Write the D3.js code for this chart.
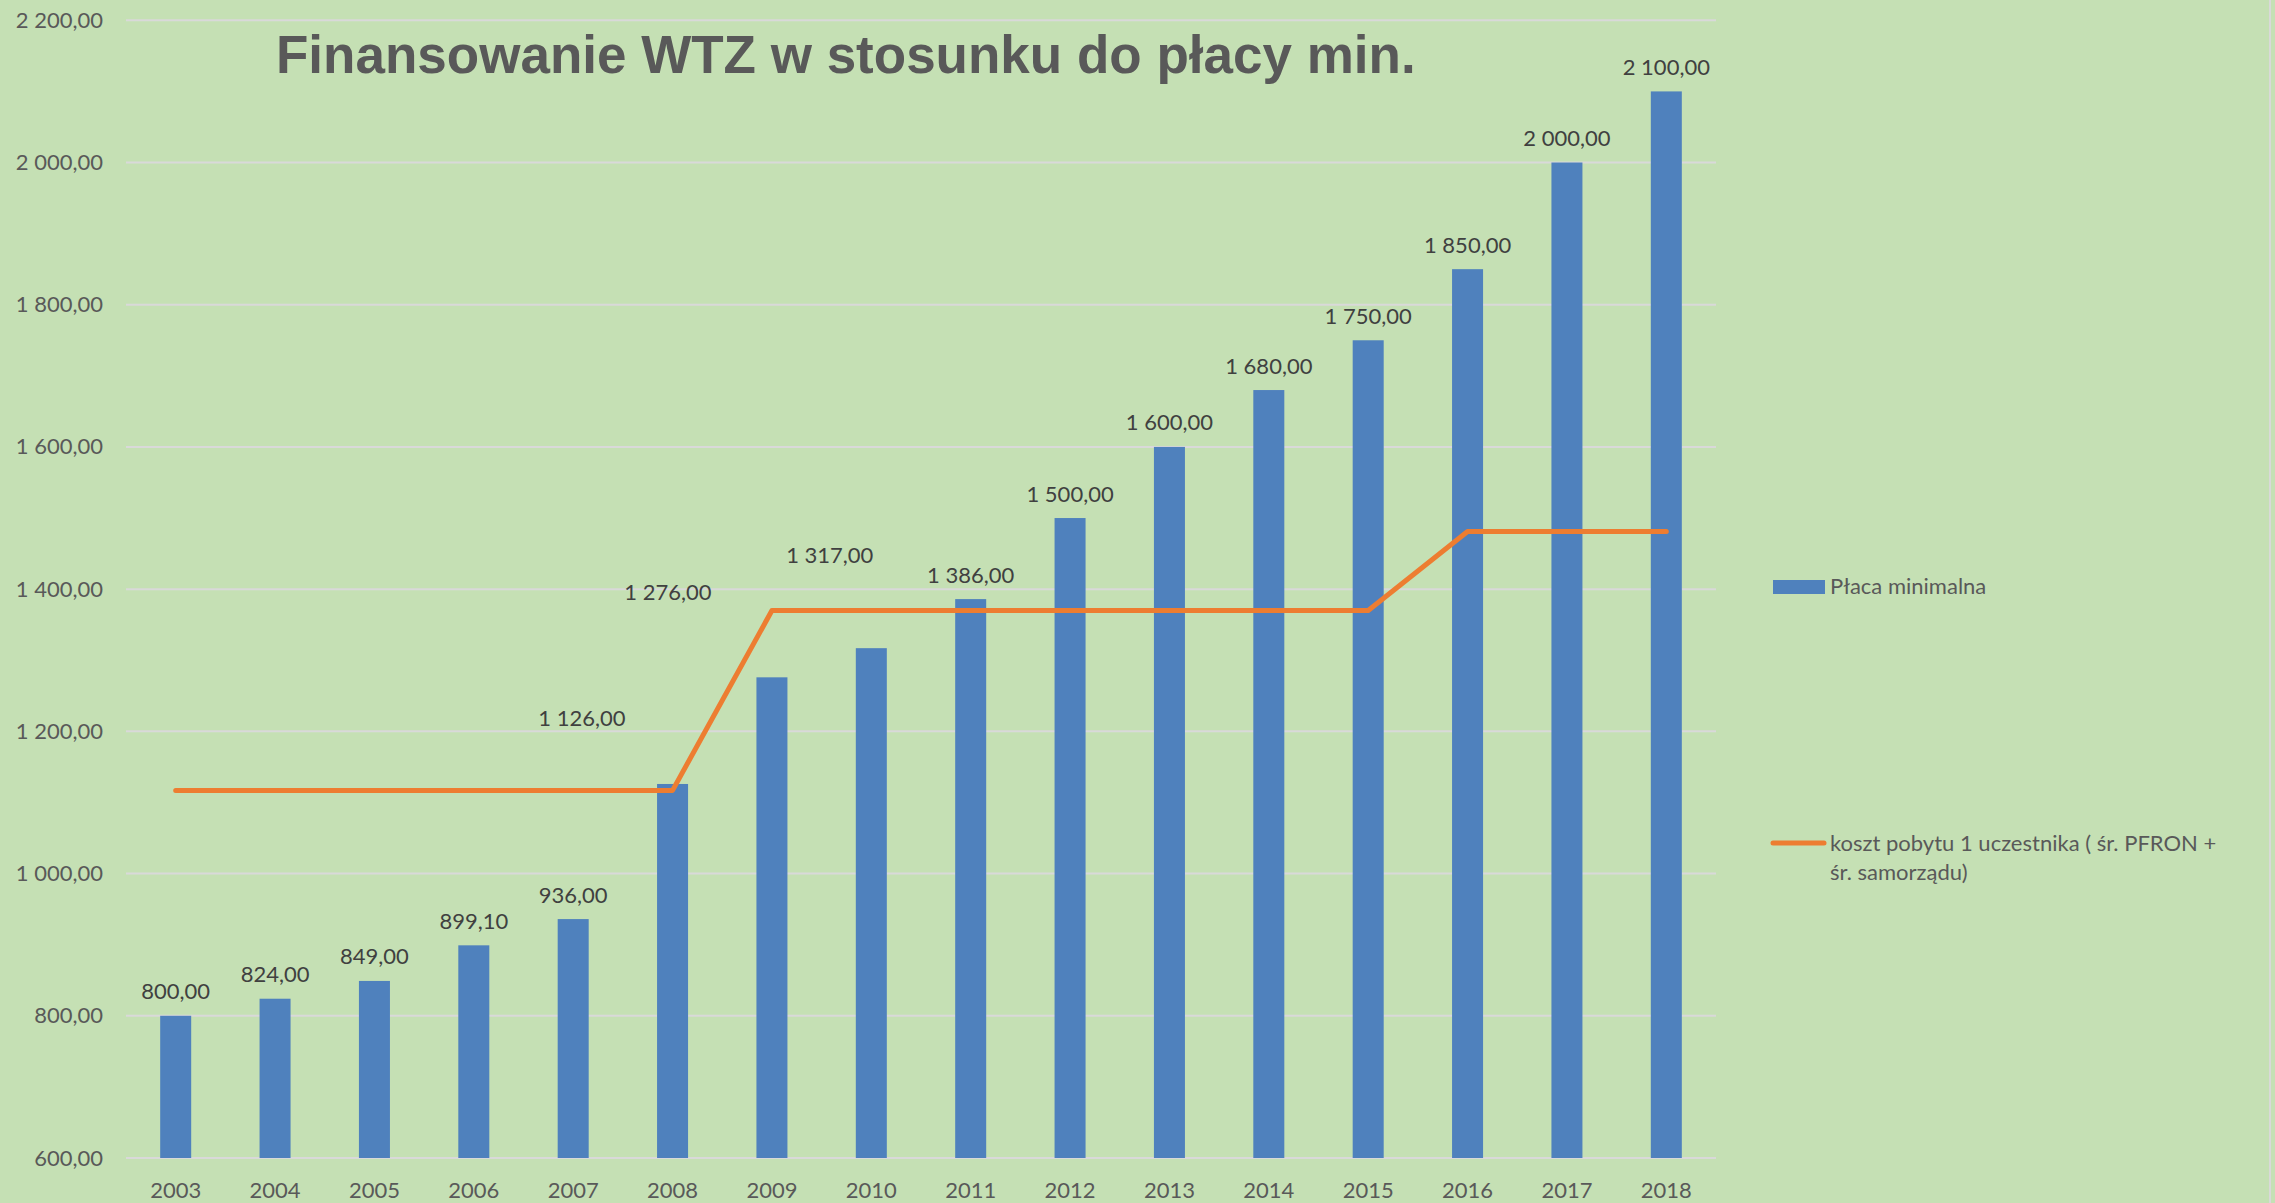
<!DOCTYPE html>
<html>
<head>
<meta charset="utf-8">
<script src="https://cdn.jsdelivr.net/npm/d3@7"></script>
<style>
  html, body { margin: 0; padding: 0; background: #C5E0B4; }
  svg { display: block; }
</style>
</head>
<body>
<svg id="chart" width="2275" height="1203"></svg>
<script>
// ---- data ----
const years = ["2003","2004","2005","2006","2007","2008","2009","2010","2011","2012","2013","2014","2015","2016","2017","2018"];
const minWage = [800, 824, 849, 899.1, 936, 1126, 1276, 1317, 1386, 1500, 1600, 1680, 1750, 1850, 2000, 2100];
const costPerParticipant = [1117, 1117, 1117, 1117, 1117, 1117, 1370, 1370, 1370, 1370, 1370, 1370, 1370, 1481, 1481, 1481];
const yTicks = [600, 800, 1000, 1200, 1400, 1600, 1800, 2000, 2200];
// manually moved data labels (in category steps / value units)
const labelShiftBand = [0,0,0,0,0,-0.913,-1.047,-0.418,0,0,0,0,0,0,0,0];
const labelShiftValue = [0,0,0,0,0,58,85,97,0,0,0,0,0,0,0,0];
const titleText = "Finansowanie WTZ w stosunku do płacy min.";
const seriesNames = ["Płaca minimalna", ["koszt pobytu 1 uczestnika ( śr. PFRON +", "śr. samorządu)"]];

// ---- styles ----
const BG = "#C5E0B4", BAR = "#4F81BD", LINE = "#ED7D31", GRID = "#D9D9D9";
const AXIS_TXT = "#595959", LABEL_TXT = "#404040";
const FONT = "Lato, 'Open Sans', sans-serif";

const locale = d3.formatLocale({decimal: ",", thousands: " ", grouping: [3], currency: ["", ""]});
const fmt = locale.format(",.2f");

const svg = d3.select("#chart");
svg.append("rect").attr("width", 2275).attr("height", 1203).attr("fill", BG);
svg.append("line").attr("x1", 2270).attr("x2", 2270).attr("y1", 0).attr("y2", 1203)
  .attr("stroke", GRID).attr("stroke-width", 2);

const plotLeft = 126, plotRight = 1716, plotTop = 20.3, plotBottom = 1158;

const x = d3.scaleBand().domain(years).range([plotLeft, plotRight]).paddingInner(0.688).paddingOuter(0.344);
const y = d3.scaleLinear().domain([600, 2200]).range([plotBottom, plotTop]);
const step = x.step();
const cx = d => x(d) + x.bandwidth() / 2;

// gridlines
svg.append("g").selectAll("line").data(yTicks).join("line")
  .attr("x1", plotLeft).attr("x2", plotRight)
  .attr("y1", d => y(d)).attr("y2", d => y(d))
  .attr("stroke", GRID).attr("stroke-width", 2);

// y axis labels
const yAxis = d3.axisLeft(y).tickValues(yTicks).tickFormat(fmt).tickSize(0).tickPadding(23);
const gy = svg.append("g").attr("transform", `translate(${plotLeft},0)`).call(yAxis);
gy.select(".domain").remove();
gy.selectAll("text").attr("font-family", FONT).attr("font-size", 22).attr("fill", AXIS_TXT);

// x axis labels
const xAxis = d3.axisBottom(x).tickSize(0).tickPadding(24);
const gx = svg.append("g").attr("transform", `translate(0,${plotBottom})`).call(xAxis);
gx.select(".domain").remove();
gx.selectAll("text").attr("font-family", FONT).attr("font-size", 22).attr("fill", AXIS_TXT);

// bars
svg.append("g").selectAll("rect").data(years).join("rect")
  .attr("x", d => x(d)).attr("width", x.bandwidth())
  .attr("y", (d, i) => y(minWage[i]))
  .attr("height", (d, i) => plotBottom - y(minWage[i]))
  .attr("fill", BAR);

// line
const line = d3.line().x((d, i) => cx(years[i])).y(d => y(d));
svg.append("path").datum(costPerParticipant)
  .attr("d", line).attr("fill", "none").attr("stroke", LINE)
  .attr("stroke-width", 5).attr("stroke-linecap", "round").attr("stroke-linejoin", "round");

// data labels
svg.append("g").selectAll("text").data(years).join("text")
  .attr("x", (d, i) => cx(d) + labelShiftBand[i] * step)
  .attr("y", (d, i) => y(minWage[i] + labelShiftValue[i]) - 25)
  .attr("dominant-baseline", "central")
  .attr("text-anchor", "middle")
  .attr("font-family", FONT).attr("font-size", 22).attr("fill", LABEL_TXT)
  .text((d, i) => fmt(minWage[i]));

// title
svg.append("text").attr("x", 276).attr("y", 73)
  .attr("font-family", "'Liberation Sans', Arial, sans-serif").attr("font-weight", "bold")
  .attr("font-size", 53).attr("fill", AXIS_TXT).text(titleText);

// legend
const lg = svg.append("g");
lg.append("rect").attr("x", 1773).attr("y", 580).attr("width", 52).attr("height", 14).attr("fill", BAR);
lg.append("text").attr("x", 1830).attr("y", 594)
  .attr("font-family", FONT).attr("font-size", 22).attr("fill", AXIS_TXT).text(seriesNames[0]);
lg.append("line").attr("x1", 1773).attr("x2", 1824).attr("y1", 843).attr("y2", 843)
  .attr("stroke", LINE).attr("stroke-width", 5).attr("stroke-linecap", "round");
const t2 = lg.append("text").attr("font-family", FONT).attr("font-size", 22).attr("fill", AXIS_TXT);
seriesNames[1].forEach((s, i) => {
  t2.append("tspan").attr("x", 1830).attr("y", 851 + i * 29).text(s);
});
</script>
</body>
</html>
